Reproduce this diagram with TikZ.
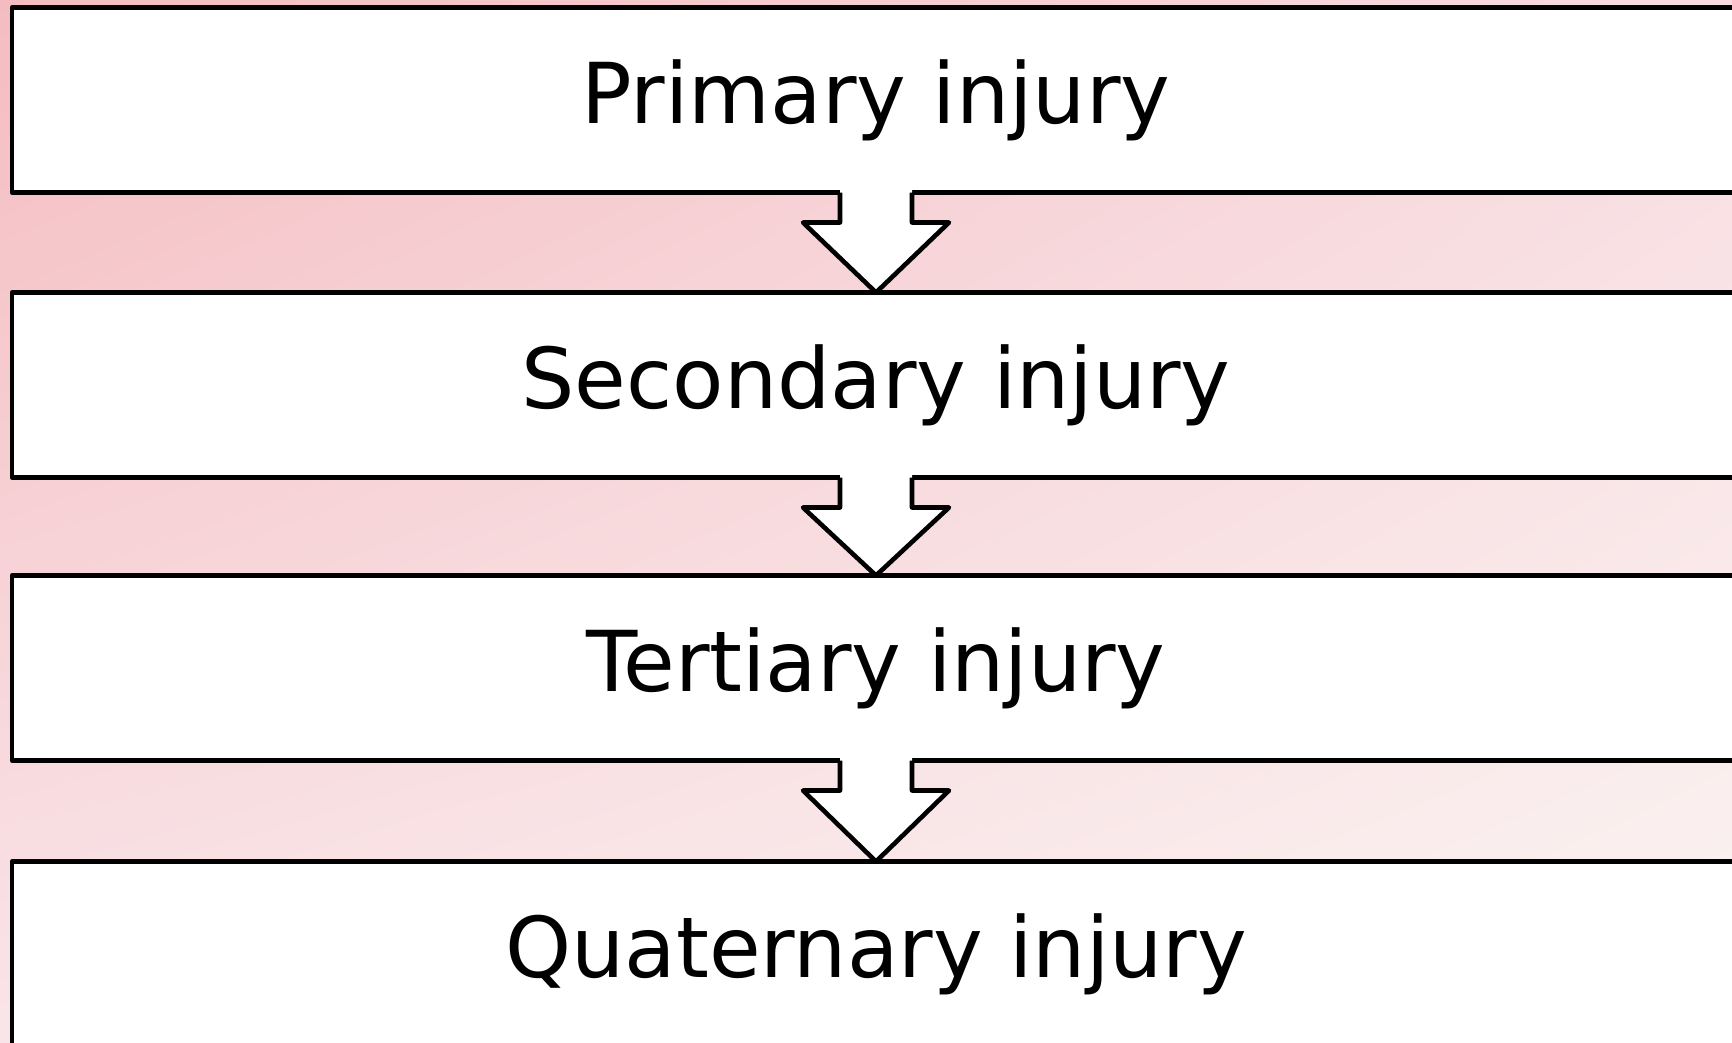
\documentclass[tikz,border=0pt]{standalone}
\usepackage{fontspec}
\setmainfont{DejaVu Sans}
\usepackage{xcolor}
\usepackage{tikz}
\usetikzlibrary{shadings}

\definecolor{bgpinkA}{HTML}{F4BCC0}
\definecolor{bgpinkB}{HTML}{F8DCE1}
\definecolor{bgpinkC}{HTML}{F9E5E9}
\definecolor{bgpinkD}{HTML}{FBF4F2}

% block arrow from one stage box down to the next
\newcommand{\stagearrow}[2]{%
  \fill[white] ([xshift=-36pt,yshift=3pt]#1.south) -- ([xshift=-36pt,yshift=-30pt]#1.south)
    -- ([xshift=-73pt,yshift=-30pt]#1.south) -- (#2.north)
    -- ([xshift=73pt,yshift=-30pt]#1.south) -- ([xshift=36pt,yshift=-30pt]#1.south)
    -- ([xshift=36pt,yshift=3pt]#1.south) -- cycle;
  \draw[stageline] ([xshift=-36pt]#1.south) -- ([xshift=-36pt,yshift=-30pt]#1.south)
    -- ([xshift=-73pt,yshift=-30pt]#1.south) -- (#2.north)
    -- ([xshift=73pt,yshift=-30pt]#1.south) -- ([xshift=36pt,yshift=-30pt]#1.south)
    -- ([xshift=36pt]#1.south);
}

\begin{document}
\begin{tikzpicture}[x=1pt,y=-1pt,
    stageline/.style={black, line width=4.6pt, line join=round},
    stagebox/.style={stageline, draw, fill=white, rectangle, outer sep=0pt,
      minimum width=1728pt, minimum height=185pt, inner sep=0pt,
      text height=56pt, text depth=10pt,
      font=\fontsize{84}{100}\selectfont}]
            \useasboundingbox (0,0) rectangle (1732,1042);
            \clip (0,0) rectangle (1732,1042);
            \shade[upper left=bgpinkA, upper right=bgpinkB, lower left=bgpinkC, lower right=bgpinkD]
              (0,0) rectangle (1732,1042);

            \node[stagebox] (primary) at (876,100) {Primary injury};
            \node[stagebox] (secondary) at (876,385) {Secondary injury};
            \node[stagebox] (tertiary) at (876,668) {Tertiary injury};
            \node[stagebox] (quaternary) at (876,954) {Quaternary injury};

            \stagearrow{primary}{secondary}
            \stagearrow{secondary}{tertiary}
            \stagearrow{tertiary}{quaternary}
        \end{tikzpicture}
\end{document}
